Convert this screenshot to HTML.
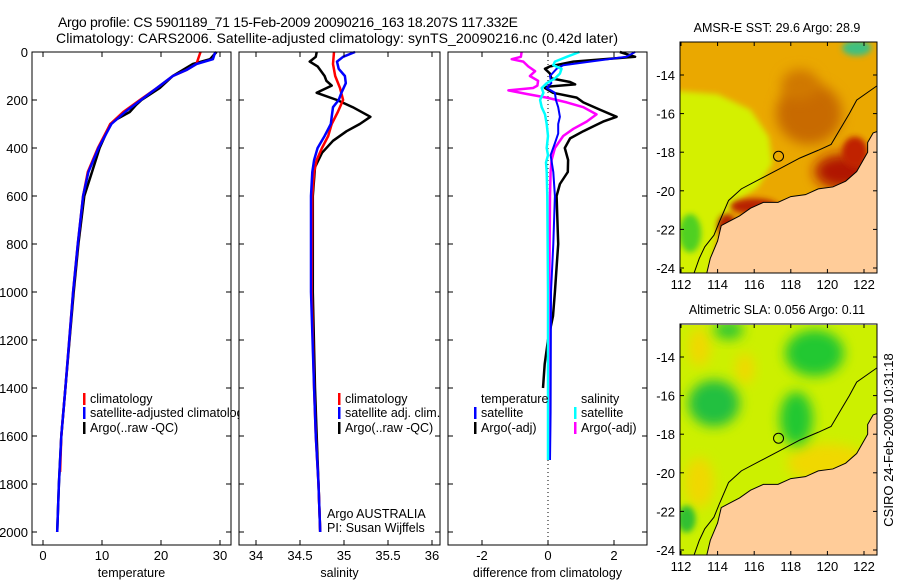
<!DOCTYPE html>
<html><head><meta charset="utf-8"><style>
html,body{margin:0;padding:0;background:#fff}
svg{display:block;font-family:"Liberation Sans",sans-serif}
</style></head><body>
<svg id="c" width="900" height="580" viewBox="0 0 900 580">
<defs>
<filter id="blur6" x="-50%" y="-50%" width="200%" height="200%"><feGaussianBlur stdDeviation="6"/></filter>
<filter id="blur3" x="-50%" y="-50%" width="200%" height="200%"><feGaussianBlur stdDeviation="3"/></filter>
<clipPath id="m1c"><rect x="680" y="42" width="197" height="231"/></clipPath>
<clipPath id="m2c"><rect x="680" y="325" width="197" height="230"/></clipPath>
</defs>
<text x="288" y="27" font-size="14" text-anchor="middle" textLength="460">Argo profile: CS 5901189_71 15-Feb-2009 20090216_163 18.207S 117.332E</text>
<text x="337" y="43" font-size="14" text-anchor="middle" textLength="562">Climatology: CARS2006. Satellite-adjusted climatology: synTS_20090216.nc (0.42d later)</text>
<g id="plots"></g>
<g id="maps"></g>
<text transform="translate(893,440) rotate(-90)" font-size="13" text-anchor="middle">CSIRO 24-Feb-2009 10:31:18</text>
</svg>
<script>
// ---- data ----
const tClimDepth=[0,50,75,100,150,200,250,300,400,500,600,800,1000,1400,1600,1750];
const tClimVal=[26.7,26,24.3,22,19.3,16.4,13.6,11.4,9.3,7.6,6.8,5.9,5.1,3.8,3.1,2.9];
const tSatDepth=[0,30,50,75,100,150,200,250,300,400,500,600,800,1000,1400,1600,1800,2000];
const tSatVal=[29.2,28.8,26,24.3,22,19.3,16.6,13.9,11.6,9.4,7.7,6.8,5.9,5.1,3.8,3.1,2.7,2.4];
const tArgoDepth=[0,30,50,100,150,200,220,250,280,300,400,500,600,800,1000,1400,1600,1800,2000];
const tArgoVal=[29.4,28.3,25.4,22,19.8,16.7,15.8,14.7,12.5,11.4,9.6,8.3,7.0,6.0,5.2,3.8,3.1,2.7,2.4];
const sClimDepth=[0,50,100,150,200,250,300,350,400,450,500,600,1000,1400,1600,1800,2000];
const sClimVal=[34.886,34.875,34.9,34.955,34.99,34.93,34.86,34.82,34.75,34.69,34.66,34.64,34.633,34.66,34.68,34.71,34.73];
const sSatDepth=[0,20,40,70,100,130,170,200,230,270,300,350,400,450,500,600,1000,1400,1600,1800,2000];
const sSatVal=[35.125,34.99,34.92,34.94,35.01,35.02,34.97,34.94,34.875,34.86,34.85,34.78,34.7,34.66,34.64,34.625,34.625,34.66,34.68,34.71,34.73];
const sArgoDepth=[0,20,40,60,100,120,140,170,200,230,270,300,330,370,420,480,600,1000,1400,1600,1800,2000];
const sArgoVal=[34.69,34.68,34.61,34.70,34.78,34.8,34.86,34.69,34.92,35.1,35.3,35.18,35.03,34.875,34.75,34.67,34.645,34.645,34.67,34.69,34.71,34.73];
const dTSatDepth=[0,20,40,55,70,100,130,150,170,200,230,270,300,340,380,430,500,600,800,1000,1500,1700];
const dTSatVal=[2.64,2.38,1.27,0.46,0.26,0.06,0.1,-0.04,0.21,0.24,0.31,0.36,0.31,0.31,0.21,0.08,0.16,0.21,0.16,0.09,0.08,0.06];
const dTArgoDepth=[0,20,40,60,70,90,110,125,135,145,150,170,190,210,240,270,290,330,360,400,450,500,550,600,800,1000,1100,1200,1300,1400];
const dTArgoVal=[2.18,2.64,0.77,0.06,-0.09,0.06,0.1,0.67,0.82,-0.04,-0.09,0.15,0.87,1.07,1.57,2.08,1.67,1.07,0.67,0.51,0.61,0.6,0.36,0.26,0.31,0.21,0.15,0.0,-0.1,-0.15];
const dSSatDepth=[0,20,40,55,70,90,110,130,150,170,200,230,260,300,350,400,430,460,500,600,1000,1700];
const dSSatVal=[0.95,0.57,0.21,0.16,0.41,0.36,0.21,-0.04,-0.19,-0.14,-0.24,-0.19,-0.09,-0.04,0.0,-0.04,0.0,-0.06,-0.04,-0.02,0.0,0.0];
const dSArgoDepth=[0,20,30,40,60,80,100,120,140,150,160,175,190,210,230,260,290,320,350,400,450,500,600,1000,1500,1700];
const dSArgoVal=[-0.8,-0.82,-1.1,-0.75,-0.6,-0.39,-0.55,-0.3,-0.32,-0.45,-1.2,-0.64,-0.04,0.57,1.07,1.47,1.17,0.77,0.46,0.21,0.11,0.08,0.06,0.04,0.06,0.05];
const depthTicks=[0,200,400,600,800,1000,1200,1400,1600,1800,2000];
const tempTicks=[0,10,20,30];
const salTicks=[34,34.5,35,35.5,36];
const salTickLabels=["34","34.5","35","35.5","36"];
const diffTicks=[-2,0,2];
const lonTicks=[112,114,116,118,120,122];
const latTicks=[-14,-16,-18,-20,-22,-24];

const NS="http://www.w3.org/2000/svg";
function mk(tag,attrs,parent,txt){const e=document.createElementNS(NS,tag);for(const k in attrs)e.setAttribute(k,attrs[k]);if(txt!==undefined)e.textContent=txt;parent.appendChild(e);return e;}
const yD=d=>52+0.24*d;
const xT=v=>43+5.9*v;
const xS=v=>256+88*(v-34);
const xDf=v=>548+33*v;
const plots=document.getElementById('plots');
const TOP=52,BOT=545;

function panel(name,x0,x1){
  const g=mk('g',{},plots);
  
  
  mk('rect',{x:x0,y:TOP,width:x1-x0,height:BOT-TOP,fill:'#fff',stroke:'none'},g);
  return g;
}
function frame(g,x0,x1,xf,ticks,labels,title,showDepth){
  mk('rect',{x:x0,y:TOP,width:x1-x0,height:BOT-TOP,fill:'none',stroke:'#000','stroke-width':1},g);
  ticks.forEach((t,i)=>{const x=xf(t);
    mk('line',{x1:x,x2:x,y1:BOT,y2:BOT-5,stroke:'#000'},g);
    mk('line',{x1:x,x2:x,y1:TOP,y2:TOP+5,stroke:'#000'},g);
    const tl=mk('text',{x:x,y:560,'font-size':13,'text-anchor':'middle'},g,labels[i]);
    
    
  });
  depthTicks.forEach(d=>{const y=yD(d);
    mk('line',{x1:x0,x2:x0+5,y1:y,y2:y,stroke:'#000'},g);
    mk('line',{x1:x1,x2:x1-5,y1:y,y2:y,stroke:'#000'},g);
    if(showDepth){const tl=mk('text',{x:28,y:y+5,'font-size':13,'text-anchor':'end'},g,String(d));
      
      }
  });
  const at=mk('text',{x:(x0+x1)/2,y:577,'font-size':12.5,'text-anchor':'middle'},g,title);
  
  
}
function line(g,ds,vs,xf,color,w,name){
  const p=ds.map((d,i)=>xf(vs[i]).toFixed(1)+','+yD(d).toFixed(1)).join(' ');
  const e=mk('polyline',{points:p,fill:'none',stroke:color,'stroke-width':w,'stroke-linejoin':'round'},g);
  
  
}
function legend(g,x,y,color,txt,name){
  if(color) mk('rect',{x:x,y:y-10,width:2.5,height:12,fill:color},g);
  const t=mk('text',{x:x+7,y:y,'font-size':12.5},g,txt);
  
  
}
// panel 1
const g1=panel('temperature-panel',32,231);
line(g1,tArgoDepth,tArgoVal,xT,'#000',2.5,'temp-argo-line');
line(g1,tClimDepth,tClimVal,xT,'#f00',2.5,'temp-climatology-line');
line(g1,tSatDepth,tSatVal,xT,'#00f',2.5,'temp-satellite-line');
legend(g1,83,403,'#f00','climatology','legend-climatology');
legend(g1,83,417,'#00f','satellite-adjusted climatology','legend-satellite-adjusted');
legend(g1,83,432,'#000','Argo(..raw -QC)','legend-argo');
frame(g1,32,231,xT,tempTicks,tempTicks.map(String),'temperature',true);
// panel 2
const g2=panel('salinity-panel',239,440);
line(g2,sArgoDepth,sArgoVal,xS,'#000',2.5,'sal-argo-line');
line(g2,sClimDepth,sClimVal,xS,'#f00',2.5,'sal-climatology-line');
line(g2,sSatDepth,sSatVal,xS,'#00f',2.5,'sal-satellite-line');
legend(g2,338,403,'#f00','climatology','legend-climatology');
legend(g2,338,417,'#00f','satellite adj. clim.','legend-satellite');
legend(g2,338,432,'#000','Argo(..raw -QC)','legend-argo');
legend(g2,320,518,null,'Argo AUSTRALIA','argo-agency-label');
legend(g2,320,532,null,'PI: Susan Wijffels','pi-label');
frame(g2,239,440,xS,salTicks,salTickLabels,'salinity',false);
// panel 3
const g3=panel('difference-panel',448,647);
mk('line',{x1:548,x2:548,y1:TOP,y2:BOT,stroke:'#000','stroke-dasharray':'1,3'},g3);
line(g3,dTArgoDepth,dTArgoVal,xDf,'#000',2.5,'diff-temp-argo-line');
line(g3,dSArgoDepth,dSArgoVal,xDf,'#f0f',2.5,'diff-sal-argo-line');
line(g3,dTSatDepth,dTSatVal,xDf,'#00f',2,'diff-temp-satellite-line');
line(g3,dSSatDepth,dSSatVal,xDf,'#0ff',2.5,'diff-sal-satellite-line');
legend(g3,474,403,null,'temperature','legend-temperature-header');
legend(g3,474,417,'#00f','satellite','legend-temp-satellite');
legend(g3,474,432,'#000','Argo(-adj)','legend-temp-argo');
legend(g3,574,403,null,'salinity','legend-salinity-header');
legend(g3,574,417,'#0ff','satellite','legend-sal-satellite');
legend(g3,574,432,'#f0f','Argo(-adj)','legend-sal-argo');
frame(g3,448,647,xDf,diffTicks,diffTicks.map(String),'difference from climatology',false);

// ---- maps ----
const maps=document.getElementById('maps');
const coast=[[113.4,-24.3],[113.6,-23.5],[114.0,-22.6],[114.2,-21.8],[114.6,-21.6],[115.2,-21.3],[115.8,-20.9],[116.5,-20.6],[117.3,-20.6],[118,-20.3],[118.8,-20.2],[119.5,-19.9],[120.3,-19.8],[121,-19.5],[121.6,-19.0],[121.9,-18.5],[122.2,-18.0],[122.2,-17.5],[122.5,-17.0],[122.8,-16.9],[122.8,-24.3]];
const iso=[[112.7,-24.3],[113.0,-23.5],[113.3,-22.9],[113.8,-22.3],[114.1,-21.6],[114.6,-20.5],[115.3,-19.9],[116.5,-19.3],[117.5,-18.8],[118.5,-18.3],[119.5,-17.9],[120.2,-17.6],[120.7,-16.8],[121.2,-16.0],[121.6,-15.3],[122.2,-14.9],[122.8,-14.5]];
function map(name,top,title,clip,blobs,bg){
  const bot=top+231;
  const lx=v=>681+18.3*(v-112);
  const ly=v=>top+33+19.3*(-14-v);
  const g=mk('g',{},maps);
  
  
  const t=mk('text',{x:777,y:top-10,'font-size':12.5,'text-anchor':'middle'},g,title);
  
  
  const inner=mk('g',{'clip-path':'url(#'+clip+')'},g);
  mk('rect',{x:680,y:top,width:197,height:231,fill:bg},inner);
  blobs.forEach(b=>{
    if(b.poly) mk('polygon',{points:b.poly.map(p=>lx(p[0])+','+ly(p[1])).join(' '),fill:b.c,filter:'url(#blur'+(b.f||6)+')'},inner);
    else mk('ellipse',{cx:lx(b.x),cy:ly(b.y),rx:b.rx*18.3,ry:b.ry*19.3,fill:b.c,filter:'url(#blur'+(b.f||6)+')'},inner);
  });
  const land=mk('polygon',{points:coast.map(p=>lx(p[0])+','+ly(p[1])).join(' '),fill:'#ffcc99',stroke:'#000','stroke-width':1},inner);
  
  
  mk('polyline',{points:iso.map(p=>lx(p[0])+','+ly(p[1])).join(' '),fill:'none',stroke:'#000','stroke-width':1},inner);
  const c=mk('circle',{cx:lx(117.33),cy:ly(-18.21),r:5,fill:'none',stroke:'#000'},inner);
  
  
  mk('rect',{x:680,y:top,width:197,height:231,fill:'none',stroke:'#000'},g);
  lonTicks.forEach(v=>{const x=lx(v);
    mk('line',{x1:x,x2:x,y1:bot,y2:bot-4,stroke:'#000'},g);
    mk('line',{x1:x,x2:x,y1:top,y2:top+4,stroke:'#000'},g);
    const tl=mk('text',{x:x,y:bot+16,'font-size':13,'text-anchor':'middle'},g,String(v));
    
    
  });
  latTicks.forEach(v=>{const y=ly(v);
    mk('line',{x1:680,x2:684,y1:y,y2:y,stroke:'#000'},g);
    mk('line',{x1:877,x2:873,y1:y,y2:y,stroke:'#000'},g);
    const tl=mk('text',{x:675,y:y+5,'font-size':13,'text-anchor':'end'},g,String(v));
    
    
  });
}
map('sst-map',42,'AMSR-E SST: 29.6 Argo: 28.9','m1c',[
  {poly:[[111.5,-14.8],[114,-15.0],[115.8,-15.8],[116.8,-17.2],[117,-18.6],[116.2,-19.8],[115,-20.6],[114,-22],[113.5,-25],[111.5,-25]],c:'#d4f000',f:3},
  {x:112.5,y:-22.2,rx:0.6,ry:1,c:'#50d020',f:3},
  {x:119,y:-16,rx:1.8,ry:1.6,c:'#c86a00'},
  {x:118.5,y:-14.5,rx:1,ry:0.8,c:'#d07800'},
  {x:120.8,y:-19,rx:1.5,ry:0.9,c:'#b01800'},
  {x:121.5,y:-18,rx:0.7,ry:0.8,c:'#c02000',f:3},
  {x:116,y:-20.8,rx:1.3,ry:0.4,c:'#b82000',f:3},
  {x:114.5,y:-21.8,rx:0.5,ry:0.6,c:'#b02000',f:3},
  {x:121.6,y:-12.6,rx:0.8,ry:0.4,c:'#40c080',f:3}
],'#eaa800');
map('sla-map',324,'Altimetric SLA: 0.056 Argo: 0.11','m2c',[
  {x:113,y:-13.5,rx:0.6,ry:1,c:'#f0d800'},
  {x:115.5,y:-14.6,rx:0.5,ry:0.8,c:'#f0d800'},
  {x:113,y:-20.5,rx:0.8,ry:1.3,c:'#f0d800'},
  {x:120,y:-19.5,rx:2.2,ry:1,c:'#f0d800'},
  {x:113.8,y:-16.4,rx:1.4,ry:1.2,c:'#20c040'},
  {x:119.3,y:-13.8,rx:1.6,ry:1.2,c:'#20c830'},
  {x:118.3,y:-17.2,rx:0.9,ry:1.4,c:'#20c830'},
  {x:114.6,y:-12.6,rx:0.8,ry:0.5,c:'#30c830'},
  {x:112.3,y:-22.4,rx:0.5,ry:0.7,c:'#30c030',f:3}
],'#ccf000');
</script>
</body></html>
